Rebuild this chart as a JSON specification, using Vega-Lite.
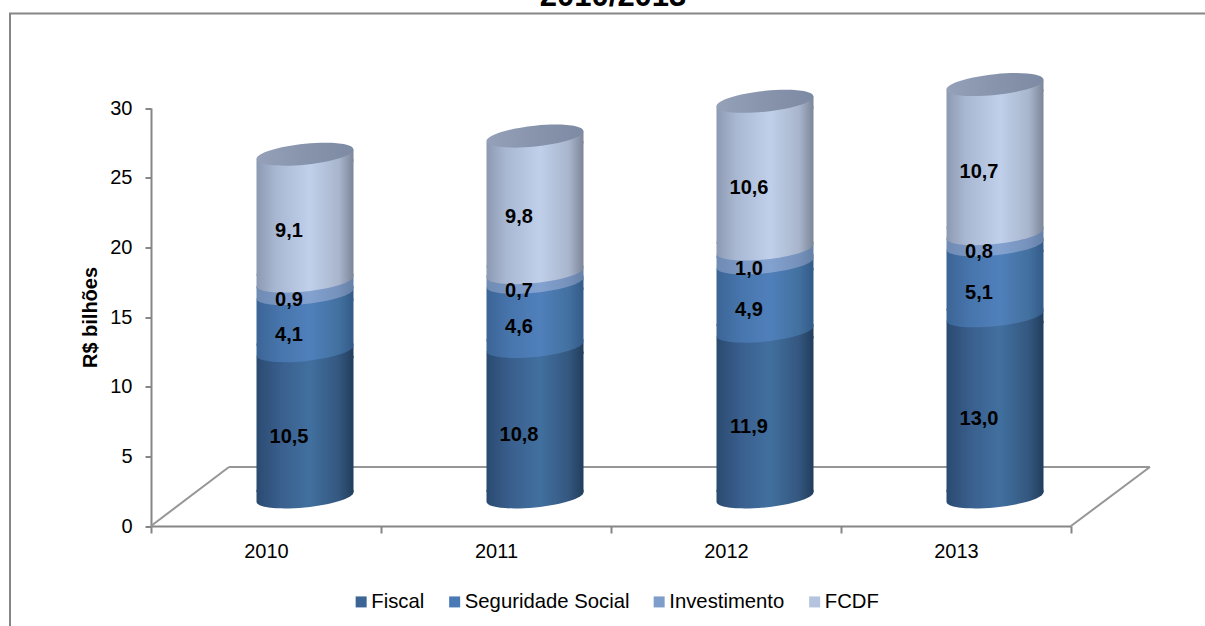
{
  "$schema": "https://vega.github.io/schema/vega-lite/v6.json",
  "autosize": "none",
  "padding": {"left": 10, "top": 13.5, "right": -5, "bottom": -7.5},
  "width": 1200,
  "height": 620,
  "background": "white",
  "config": {
    "font": "Liberation Sans",
    "view": {"stroke": "#868686", "strokeWidth": 2, "fill": "white"},
    "locale": {"number": {"decimal": ",", "thousands": ".", "grouping": [3], "currency": ["R$ ", ""]}}
  },
  "layer": [
    {
      "layer": [
        {
          "data": {"values": [
            {"x0": 0, "y0": 0, "x1": 0.339, "y1": 4.235},
            {"x0": 0.339, "y0": 4.235, "x1": 4.343, "y1": 4.235},
            {"x0": 4, "y0": 0, "x1": 4.343, "y1": 4.235}
          ]},
          "mark": {"type": "rule", "color": "#969696", "strokeWidth": 2},
          "encoding": {
            "x": {"field": "x0", "type": "quantitative", "axis": null, "scale": {"domain": [0, 4], "range": [141, 1061], "nice": false}},
            "x2": {"field": "x1"},
            "y": {"field": "y0", "type": "quantitative", "scale": {"domain": [0, 30], "range": [512.5, 94.5], "nice": false}},
            "y2": {"field": "y1"}
          }
        },
        {
          "data": {"values": [{"titulo": "2010/2013"}]},
          "mark": {"type": "text", "font": "Liberation Sans", "fontSize": 31, "fontWeight": "bold", "color": "black", "align": "center", "baseline": "alphabetic"},
          "encoding": {
            "x": {"datum": 2.009, "type": "quantitative", "axis": null},
            "y": {"datum": 37.29, "type": "quantitative"},
            "text": {"field": "titulo"}
          }
        }
      ]
    },
    {
      "data": {"values": [
        {"ano": "2010", "fonte": "Fiscal", "ordem": 1, "valor": 10.5},
        {"ano": "2010", "fonte": "Seguridade Social", "ordem": 2, "valor": 4.1},
        {"ano": "2010", "fonte": "Investimento", "ordem": 3, "valor": 0.9},
        {"ano": "2010", "fonte": "FCDF", "ordem": 4, "valor": 9.1},
        {"ano": "2011", "fonte": "Fiscal", "ordem": 1, "valor": 10.8},
        {"ano": "2011", "fonte": "Seguridade Social", "ordem": 2, "valor": 4.6},
        {"ano": "2011", "fonte": "Investimento", "ordem": 3, "valor": 0.7},
        {"ano": "2011", "fonte": "FCDF", "ordem": 4, "valor": 9.8},
        {"ano": "2012", "fonte": "Fiscal", "ordem": 1, "valor": 11.9},
        {"ano": "2012", "fonte": "Seguridade Social", "ordem": 2, "valor": 4.9},
        {"ano": "2012", "fonte": "Investimento", "ordem": 3, "valor": 1.0},
        {"ano": "2012", "fonte": "FCDF", "ordem": 4, "valor": 10.6},
        {"ano": "2013", "fonte": "Fiscal", "ordem": 1, "valor": 13.0},
        {"ano": "2013", "fonte": "Seguridade Social", "ordem": 2, "valor": 5.1},
        {"ano": "2013", "fonte": "Investimento", "ordem": 3, "valor": 0.8},
        {"ano": "2013", "fonte": "FCDF", "ordem": 4, "valor": 10.7}
      ]},
      "transform": [
        {"stack": "valor", "groupby": ["ano"], "sort": [{"field": "ordem", "order": "ascending"}], "as": ["base", "topo"]},
        {"calculate": "(datum.base + datum.topo) / 2", "as": "meio"}
      ],
      "encoding": {
        "x": {
          "field": "ano", "type": "nominal", "sort": null,
          "scale": {"range": [141, 1061], "paddingInner": 0, "paddingOuter": 0},
          "axis": {
            "title": null, "offset": -107.5, "labelAngle": 0, "grid": false, "tickBand": "extent",
            "domainColor": "#868686", "domainWidth": 2, "tickColor": "#868686", "tickWidth": 2, "tickSize": 7,
            "labelFont": "Liberation Sans", "labelFontSize": 20, "labelColor": "black", "labelPadding": 8
          }
        }
      },
      "layer": [
        {
          "mark": {"type": "bar", "width": 97, "xOffset": 39, "yOffset": -29, "y2Offset": -29, "opacity": 0},
          "encoding": {
            "y": {
              "field": "base", "type": "quantitative",
              "axis": {
                "title": "R$ bilhões", "titleFont": "Liberation Sans", "titleFontSize": 20, "titleFontWeight": "bold", "titleColor": "black", "titlePadding": 9,
                "offset": -141, "values": [0, 5, 10, 15, 20, 25, 30], "grid": false,
                "domainColor": "#868686", "domainWidth": 2, "tickColor": "#868686", "tickWidth": 2, "tickSize": 6,
                "labelFont": "Liberation Sans", "labelFontSize": 20, "labelColor": "black", "labelPadding": 13
              }
            },
            "y2": {"field": "topo"},
            "color": {
              "field": "fonte", "type": "nominal",
              "scale": {"domain": ["Fiscal", "Seguridade Social", "Investimento", "FCDF"], "range": ["#3c6596", "#4a7ab5", "#7f9dcb", "#b4c4de"]},
              "legend": {
                "title": null, "orient": "none", "direction": "horizontal", "legendX": 341, "legendY": 578,
                "symbolType": "square", "symbolSize": 121, "symbolStrokeWidth": 0, "symbolOpacity": 1,
                "labelFont": "Liberation Sans", "labelFontSize": 20.3, "labelColor": "black", "labelOffset": 0, "labelLimit": 400,
                "columnPadding": 19.5, "padding": 0
              }
            }
          }
        },
        {
          "transform": [{"filter": "datum.fonte === 'Fiscal'"}],
          "layer": [
            {
              "mark": {"type": "bar", "width": 97, "xOffset": 39, "yOffset": -34, "y2Offset": -24,
                "fill": {"gradient": "linear", "x1": 0, "x2": 1, "y1": 0, "y2": 0, "stops": [{"offset": 0, "color": "#2a4a70"}, {"offset": 0.25, "color": "#3a5f8e"}, {"offset": 0.55, "color": "#41709f"}, {"offset": 0.85, "color": "#34577f"}, {"offset": 1, "color": "#213d5c"}]}},
              "encoding": {"y": {"field": "base", "type": "quantitative"}, "y2": {"field": "topo"}}
            },
            {
              "mark": {"type": "point", "shape": "M-1,0.15L1,0.15L1,-0.1Z", "size": 9409, "filled": true, "opacity": 1, "strokeWidth": 0, "xOffset": 39, "yOffset": -29,
                "fill": {"gradient": "linear", "x1": 0, "x2": 1, "y1": 0, "y2": 0, "stops": [{"offset": 0, "color": "#2a4a70"}, {"offset": 0.25, "color": "#3a5f8e"}, {"offset": 0.55, "color": "#41709f"}, {"offset": 0.85, "color": "#34577f"}, {"offset": 1, "color": "#213d5c"}]}},
              "encoding": {"y": {"field": "topo", "type": "quantitative"}}
            },
            {
              "mark": {"type": "point", "shape": "M-1,-0.15L1,-0.15L1,-0.1C1,0.0187,0.552,0.1598,0,0.215C-0.552,0.2702,-1,0.2187,-1,0.1Z", "size": 9409, "filled": true, "opacity": 1, "strokeWidth": 0, "xOffset": 39, "yOffset": -29,
                "fill": {"gradient": "linear", "x1": 0, "x2": 1, "y1": 0, "y2": 0, "stops": [{"offset": 0, "color": "#2a4a70"}, {"offset": 0.25, "color": "#3a5f8e"}, {"offset": 0.55, "color": "#41709f"}, {"offset": 0.85, "color": "#34577f"}, {"offset": 1, "color": "#213d5c"}]}},
              "encoding": {"y": {"field": "base", "type": "quantitative"}}
            }
          ]
        },
        {
          "transform": [{"filter": "datum.fonte === 'Seguridade Social'"}],
          "layer": [
            {
              "mark": {"type": "bar", "width": 97, "xOffset": 39, "yOffset": -34, "y2Offset": -24,
                "fill": {"gradient": "linear", "x1": 0, "x2": 1, "y1": 0, "y2": 0, "stops": [{"offset": 0, "color": "#3c6596"}, {"offset": 0.25, "color": "#4775ad"}, {"offset": 0.55, "color": "#5080bb"}, {"offset": 0.85, "color": "#42709f"}, {"offset": 1, "color": "#335a88"}]}},
              "encoding": {"y": {"field": "base", "type": "quantitative"}, "y2": {"field": "topo"}}
            },
            {
              "mark": {"type": "point", "shape": "M-1,0.15L1,0.15L1,-0.1Z", "size": 9409, "filled": true, "opacity": 1, "strokeWidth": 0, "xOffset": 39, "yOffset": -29,
                "fill": {"gradient": "linear", "x1": 0, "x2": 1, "y1": 0, "y2": 0, "stops": [{"offset": 0, "color": "#3c6596"}, {"offset": 0.25, "color": "#4775ad"}, {"offset": 0.55, "color": "#5080bb"}, {"offset": 0.85, "color": "#42709f"}, {"offset": 1, "color": "#335a88"}]}},
              "encoding": {"y": {"field": "topo", "type": "quantitative"}}
            },
            {
              "mark": {"type": "point", "shape": "M-1,-0.15L1,-0.15L1,-0.1C1,0.0187,0.552,0.1598,0,0.215C-0.552,0.2702,-1,0.2187,-1,0.1Z", "size": 9409, "filled": true, "opacity": 1, "strokeWidth": 0, "xOffset": 39, "yOffset": -29,
                "fill": {"gradient": "linear", "x1": 0, "x2": 1, "y1": 0, "y2": 0, "stops": [{"offset": 0, "color": "#3c6596"}, {"offset": 0.25, "color": "#4775ad"}, {"offset": 0.55, "color": "#5080bb"}, {"offset": 0.85, "color": "#42709f"}, {"offset": 1, "color": "#335a88"}]}},
              "encoding": {"y": {"field": "base", "type": "quantitative"}}
            }
          ]
        },
        {
          "transform": [{"filter": "datum.fonte === 'Investimento'"}],
          "layer": [
            {
              "mark": {"type": "bar", "width": 97, "xOffset": 39, "yOffset": -34, "y2Offset": -24,
                "fill": {"gradient": "linear", "x1": 0, "x2": 1, "y1": 0, "y2": 0, "stops": [{"offset": 0, "color": "#6f8bb3"}, {"offset": 0.25, "color": "#7a97c4"}, {"offset": 0.55, "color": "#84a2d0"}, {"offset": 0.85, "color": "#7591bb"}, {"offset": 1, "color": "#6580a6"}]}},
              "encoding": {"y": {"field": "base", "type": "quantitative"}, "y2": {"field": "topo"}}
            },
            {
              "mark": {"type": "point", "shape": "M-1,0.15L1,0.15L1,-0.1Z", "size": 9409, "filled": true, "opacity": 1, "strokeWidth": 0, "xOffset": 39, "yOffset": -29,
                "fill": {"gradient": "linear", "x1": 0, "x2": 1, "y1": 0, "y2": 0, "stops": [{"offset": 0, "color": "#6f8bb3"}, {"offset": 0.25, "color": "#7a97c4"}, {"offset": 0.55, "color": "#84a2d0"}, {"offset": 0.85, "color": "#7591bb"}, {"offset": 1, "color": "#6580a6"}]}},
              "encoding": {"y": {"field": "topo", "type": "quantitative"}}
            },
            {
              "mark": {"type": "point", "shape": "M-1,-0.15L1,-0.15L1,-0.1C1,0.0187,0.552,0.1598,0,0.215C-0.552,0.2702,-1,0.2187,-1,0.1Z", "size": 9409, "filled": true, "opacity": 1, "strokeWidth": 0, "xOffset": 39, "yOffset": -29,
                "fill": {"gradient": "linear", "x1": 0, "x2": 1, "y1": 0, "y2": 0, "stops": [{"offset": 0, "color": "#6f8bb3"}, {"offset": 0.25, "color": "#7a97c4"}, {"offset": 0.55, "color": "#84a2d0"}, {"offset": 0.85, "color": "#7591bb"}, {"offset": 1, "color": "#6580a6"}]}},
              "encoding": {"y": {"field": "base", "type": "quantitative"}}
            }
          ]
        },
        {
          "transform": [{"filter": "datum.fonte === 'FCDF'"}],
          "layer": [
            {
              "mark": {"type": "bar", "width": 97, "xOffset": 39, "yOffset": -34, "y2Offset": -24,
                "fill": {"gradient": "linear", "x1": 0, "x2": 1, "y1": 0, "y2": 0, "stops": [{"offset": 0, "color": "#8c99b2"}, {"offset": 0.2, "color": "#a9b8d2"}, {"offset": 0.55, "color": "#c0d0ea"}, {"offset": 0.85, "color": "#a8b5cc"}, {"offset": 1, "color": "#7c8699"}]}},
              "encoding": {"y": {"field": "base", "type": "quantitative"}, "y2": {"field": "topo"}}
            },
            {
              "mark": {"type": "point", "shape": "M-1,0.15L1,0.15L1,-0.1Z", "size": 9409, "filled": true, "opacity": 1, "strokeWidth": 0, "xOffset": 39, "yOffset": -29,
                "fill": {"gradient": "linear", "x1": 0, "x2": 1, "y1": 0, "y2": 0, "stops": [{"offset": 0, "color": "#8c99b2"}, {"offset": 0.2, "color": "#a9b8d2"}, {"offset": 0.55, "color": "#c0d0ea"}, {"offset": 0.85, "color": "#a8b5cc"}, {"offset": 1, "color": "#7c8699"}]}},
              "encoding": {"y": {"field": "topo", "type": "quantitative"}}
            },
            {
              "mark": {"type": "point", "shape": "M-1,-0.15L1,-0.15L1,-0.1C1,0.0187,0.552,0.1598,0,0.215C-0.552,0.2702,-1,0.2187,-1,0.1Z", "size": 9409, "filled": true, "opacity": 1, "strokeWidth": 0, "xOffset": 39, "yOffset": -29,
                "fill": {"gradient": "linear", "x1": 0, "x2": 1, "y1": 0, "y2": 0, "stops": [{"offset": 0, "color": "#8c99b2"}, {"offset": 0.2, "color": "#a9b8d2"}, {"offset": 0.55, "color": "#c0d0ea"}, {"offset": 0.85, "color": "#a8b5cc"}, {"offset": 1, "color": "#7c8699"}]}},
              "encoding": {"y": {"field": "base", "type": "quantitative"}}
            },
            {
              "mark": {"type": "point", "shape": "M1,-0.1C1,0.0187,0.552,0.1598,0,0.215C-0.552,0.2702,-1,0.2187,-1,0.1C-1,-0.0187,-0.552,-0.1598,0,-0.215C0.552,-0.2702,1,-0.2187,1,-0.1Z", "size": 9409, "filled": true, "opacity": 1, "strokeWidth": 0, "xOffset": 39, "yOffset": -29,
                "fill": {"gradient": "linear", "x1": 0, "x2": 1, "y1": 0, "y2": 0, "stops": [{"offset": 0, "color": "#95a1b9"}, {"offset": 0.5, "color": "#8894ac"}, {"offset": 1, "color": "#7d8aa3"}]}},
              "encoding": {"y": {"field": "topo", "type": "quantitative"}}
            }
          ]
        },
        {
          "mark": {"type": "text", "font": "Liberation Sans", "fontSize": 20, "fontWeight": "bold", "color": "black", "baseline": "middle", "align": "center", "xOffset": 23, "yOffset": -16},
          "encoding": {
            "y": {"field": "meio", "type": "quantitative"},
            "text": {"field": "valor", "type": "quantitative", "format": ".1f"}
          }
        }
      ]
    }
  ],
  "resolve": {"scale": {"x": "independent"}}
}
